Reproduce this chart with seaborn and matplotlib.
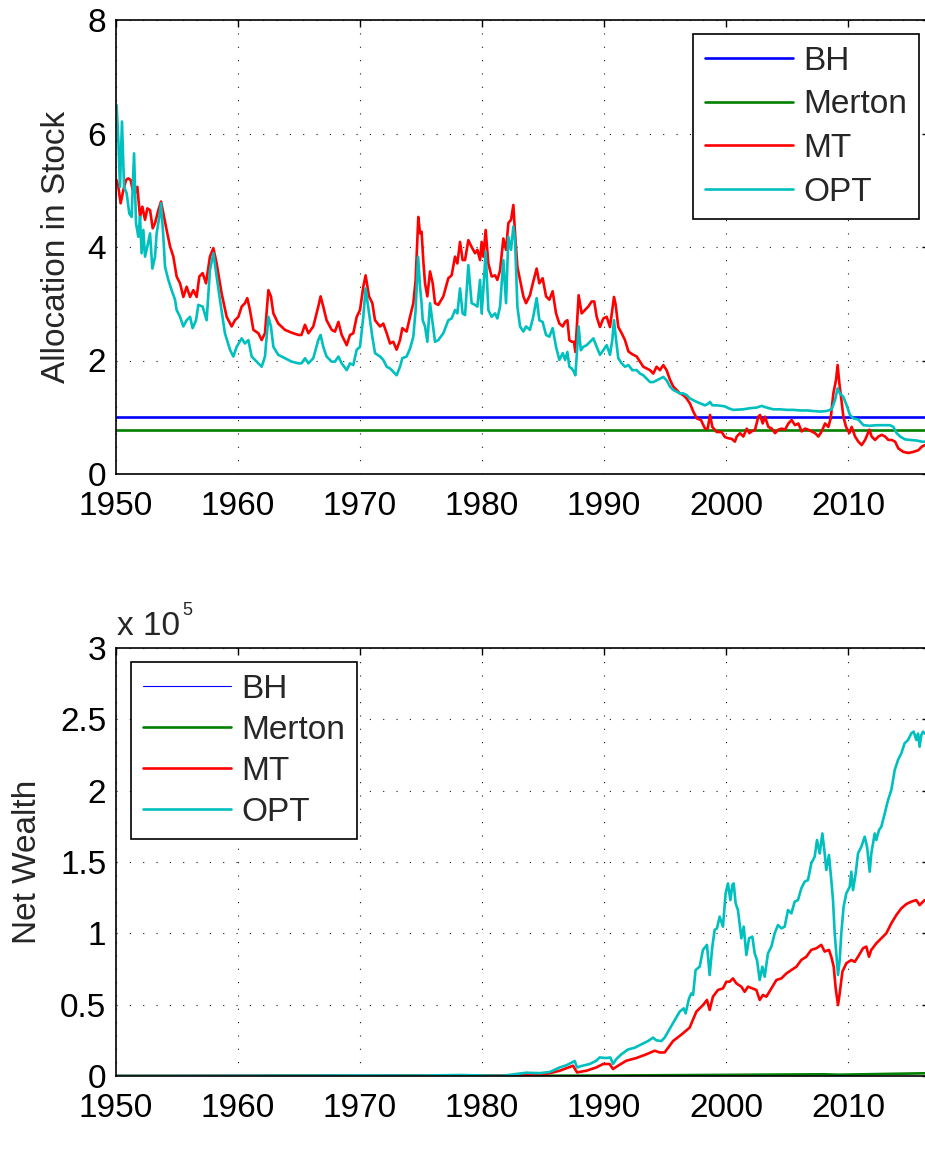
import matplotlib
matplotlib.use("Agg")
import matplotlib.pyplot as plt
import seaborn as sns

# ---------------- Allocation in stock ----------------
alloc_mt_year = [
    1950.05, 1950.19, 1950.38, 1950.60, 1950.82, 1951.01, 1951.20, 1951.37, 1951.56, 1951.75,
    1951.97, 1952.16, 1952.38, 1952.57, 1952.79, 1953.01, 1953.20, 1953.47, 1953.69, 1953.88,
    1954.15, 1954.43, 1954.70, 1954.97, 1955.25, 1955.52, 1955.79, 1956.07, 1956.34, 1956.61,
    1956.83, 1957.10, 1957.38, 1957.70, 1957.98, 1958.25, 1958.66, 1959.07, 1959.48, 1959.75,
    1960.03, 1960.30, 1960.57, 1960.76, 1960.98, 1961.26, 1961.67, 1961.94, 1962.21, 1962.49,
    1962.70, 1962.90, 1963.30, 1963.85, 1964.40, 1964.95, 1965.20, 1965.49, 1965.77, 1966.17,
    1966.58, 1966.77, 1966.99, 1967.26, 1967.68, 1967.95, 1968.23, 1968.50, 1968.91, 1969.18,
    1969.45, 1969.73, 1970.00, 1970.27, 1970.46, 1970.74, 1971.01, 1971.23, 1971.64, 1971.91,
    1972.19, 1972.46, 1972.73, 1973.00, 1973.28, 1973.47, 1973.82, 1974.10, 1974.37, 1974.56,
    1974.78, 1974.92, 1975.05, 1975.19, 1975.33, 1975.52, 1975.74, 1975.96, 1976.15, 1976.42,
    1976.83, 1977.24, 1977.51, 1977.79, 1977.98, 1978.20, 1978.41, 1978.61, 1978.88, 1979.15,
    1979.43, 1979.62, 1979.84, 1979.97, 1980.11, 1980.30, 1980.52, 1980.79, 1981.07, 1981.26,
    1981.48, 1981.75, 1981.97, 1982.16, 1982.38, 1982.57, 1982.71, 1982.90, 1983.12, 1983.39,
    1983.61, 1983.93, 1984.20, 1984.48, 1984.70, 1984.97, 1985.25, 1985.52, 1985.79, 1986.07,
    1986.34, 1986.62, 1986.81, 1987.00, 1987.16, 1987.35, 1987.54, 1987.65, 1987.76, 1987.92,
    1988.17, 1988.44, 1988.71, 1988.99, 1989.20, 1989.40, 1989.67, 1989.94, 1990.22, 1990.49,
    1990.68, 1990.82, 1990.96, 1991.17, 1991.45, 1991.72, 1992.00, 1992.32, 1992.68, 1992.95,
    1993.22, 1993.50, 1993.77, 1994.04, 1994.31, 1994.59, 1994.86, 1995.13, 1995.41, 1995.68,
    1995.95, 1996.23, 1996.50, 1996.77, 1997.05, 1997.32, 1997.60, 1997.95, 1998.28, 1998.50,
    1998.69, 1998.88, 1999.24, 1999.64, 1999.92, 2000.19, 2000.46, 2000.73, 2000.88, 2001.15,
    2001.42, 2001.70, 2001.92, 2002.10, 2002.38, 2002.65, 2002.79, 2003.01, 2003.20, 2003.47,
    2003.75, 2004.02, 2004.29, 2004.56, 2004.84, 2005.11, 2005.38, 2005.66, 2005.93, 2006.20,
    2006.48, 2006.75, 2007.02, 2007.30, 2007.57, 2007.84, 2008.12, 2008.39, 2008.58, 2008.80,
    2009.02, 2009.15, 2009.29, 2009.43, 2009.62, 2009.84, 2010.11, 2010.30, 2010.58, 2010.85,
    2011.12, 2011.40, 2011.75, 2011.94, 2012.22, 2012.49, 2012.76, 2013.04, 2013.31, 2013.58,
    2013.86, 2014.13, 2014.54, 2014.95, 2015.36, 2015.77, 2016.04, 2016.31,
]
alloc_mt = [
    5.18, 5.06, 4.77, 5.00, 5.18, 5.21, 5.18, 5.00, 4.95, 5.06,
    4.53, 4.71, 4.48, 4.68, 4.65, 4.33, 4.42, 4.65, 4.80, 4.59,
    4.30, 4.01, 3.83, 3.48, 3.36, 3.12, 3.30, 3.12, 3.24, 3.12,
    3.48, 3.54, 3.36, 3.83, 3.98, 3.71, 3.18, 2.77, 2.60, 2.71,
    2.77, 2.95, 3.01, 3.10, 2.89, 2.54, 2.48, 2.36, 2.48, 3.24,
    3.13, 2.83, 2.65, 2.54, 2.49, 2.45, 2.45, 2.63, 2.48, 2.60,
    2.95, 3.13, 2.95, 2.71, 2.54, 2.51, 2.68, 2.45, 2.27, 2.45,
    2.48, 2.77, 2.89, 3.30, 3.50, 3.13, 3.01, 2.71, 2.60, 2.65,
    2.48, 2.30, 2.33, 2.19, 2.36, 2.57, 2.51, 2.77, 3.01, 3.42,
    4.53, 4.24, 4.27, 3.75, 3.36, 3.13, 3.57, 3.36, 3.01, 2.98,
    3.13, 3.45, 3.50, 3.83, 3.71, 4.09, 3.77, 3.77, 4.12, 4.00,
    3.89, 3.95, 3.77, 4.09, 3.83, 4.30, 3.71, 3.48, 3.50, 3.42,
    3.59, 4.15, 3.95, 4.42, 4.48, 4.74, 4.24, 3.65, 3.42, 3.13,
    3.01, 3.15, 3.39, 3.62, 3.36, 3.45, 3.13, 3.07, 3.22, 2.83,
    2.65, 2.60, 2.68, 2.71, 2.36, 2.33, 2.33, 2.15, 2.54, 3.15,
    2.83, 2.89, 2.95, 3.04, 3.04, 2.77, 2.59, 2.74, 2.77, 2.59,
    2.89, 3.12, 2.98, 2.59, 2.48, 2.36, 2.16, 2.11, 2.07, 1.98,
    1.89, 1.86, 1.83, 1.77, 1.89, 1.83, 1.92, 1.83, 1.66, 1.54,
    1.48, 1.42, 1.39, 1.33, 1.24, 1.10, 0.98, 0.95, 0.80, 0.80,
    1.04, 0.83, 0.74, 0.74, 0.65, 0.63, 0.62, 0.57, 0.66, 0.72,
    0.66, 0.80, 0.72, 0.75, 0.78, 1.01, 1.04, 0.89, 1.01, 0.83,
    0.80, 0.72, 0.78, 0.80, 0.78, 0.89, 0.95, 0.86, 0.89, 0.75,
    0.80, 0.78, 0.75, 0.72, 0.66, 0.75, 0.89, 0.83, 0.98, 1.42,
    1.66, 1.92, 1.60, 1.36, 1.01, 0.83, 0.72, 0.83, 0.66, 0.57,
    0.51, 0.60, 0.78, 0.66, 0.60, 0.66, 0.69, 0.66, 0.60, 0.60,
    0.57, 0.45, 0.39, 0.37, 0.39, 0.42, 0.48, 0.51,
]

alloc_opt_year = [
    1950.05, 1950.19, 1950.33, 1950.49, 1950.66, 1950.87, 1951.09, 1951.28, 1951.48, 1951.64,
    1951.83, 1951.97, 1952.10, 1952.24, 1952.38, 1952.57, 1952.79, 1952.98, 1953.20, 1953.33,
    1953.55, 1953.69, 1953.88, 1954.02, 1954.29, 1954.56, 1954.84, 1954.97, 1955.25, 1955.52,
    1955.79, 1956.07, 1956.28, 1956.56, 1956.75, 1957.10, 1957.43, 1957.70, 1957.98, 1958.25,
    1958.52, 1958.93, 1959.34, 1959.62, 1959.89, 1960.30, 1960.57, 1960.85, 1961.12, 1961.53,
    1961.94, 1962.21, 1962.49, 1962.70, 1962.90, 1963.30, 1963.85, 1964.40, 1964.95, 1965.20,
    1965.49, 1965.77, 1966.17, 1966.58, 1966.77, 1966.99, 1967.26, 1967.68, 1967.95, 1968.23,
    1968.50, 1968.91, 1969.18, 1969.45, 1969.73, 1970.00, 1970.27, 1970.46, 1970.74, 1971.01,
    1971.23, 1971.64, 1971.91, 1972.19, 1972.46, 1972.73, 1973.00, 1973.28, 1973.47, 1973.82,
    1974.10, 1974.37, 1974.56, 1974.76, 1974.92, 1975.05, 1975.14, 1975.33, 1975.52, 1975.74,
    1975.96, 1976.15, 1976.42, 1976.83, 1977.24, 1977.51, 1977.79, 1977.98, 1978.20, 1978.41,
    1978.61, 1978.88, 1979.15, 1979.43, 1979.62, 1979.84, 1979.97, 1980.11, 1980.30, 1980.52,
    1980.79, 1981.07, 1981.26, 1981.48, 1981.75, 1981.97, 1982.16, 1982.38, 1982.57, 1982.71,
    1982.90, 1983.12, 1983.39, 1983.61, 1983.93, 1984.20, 1984.48, 1984.70, 1984.97, 1985.25,
    1985.52, 1985.79, 1986.07, 1986.34, 1986.62, 1986.81, 1987.00, 1987.16, 1987.35, 1987.54,
    1987.65, 1987.76, 1987.92, 1988.10, 1988.30, 1988.58, 1988.85, 1989.13, 1989.40, 1989.67,
    1989.94, 1990.22, 1990.49, 1990.68, 1990.82, 1990.96, 1991.17, 1991.45, 1991.72, 1992.00,
    1992.32, 1992.68, 1992.95, 1993.22, 1993.50, 1993.77, 1994.04, 1994.31, 1994.59, 1994.86,
    1995.13, 1995.41, 1995.68, 1995.95, 1996.23, 1996.50, 1996.77, 1997.05, 1997.32, 1997.60,
    1997.95, 1998.28, 1998.55, 1998.69, 1998.88, 1999.24, 1999.64, 1999.92, 2000.19, 2000.60,
    2001.42, 2001.97, 2002.51, 2002.92, 2003.33, 2003.88, 2004.43, 2004.98, 2005.52, 2006.07,
    2006.61, 2007.16, 2007.70, 2008.25, 2008.66, 2008.93, 2009.15, 2009.34, 2009.62, 2009.89,
    2010.16, 2010.44, 2010.85, 2011.26, 2011.80, 2012.35, 2012.90, 2013.45, 2013.72, 2013.99,
    2014.27, 2014.68, 2015.08, 2015.63, 2016.04, 2016.31,
]
alloc_opt = [
    6.50, 5.89, 5.06, 6.21, 5.06, 4.95, 4.59, 4.53, 5.65, 4.42,
    4.18, 4.53, 3.89, 4.30, 3.83, 4.01, 4.24, 3.62, 3.83, 4.24,
    4.53, 4.77, 4.18, 3.65, 3.42, 3.24, 3.07, 2.89, 2.77, 2.60,
    2.71, 2.77, 2.57, 2.71, 2.98, 2.95, 2.71, 3.59, 3.89, 3.48,
    3.07, 2.48, 2.19, 2.07, 2.24, 2.39, 2.30, 2.36, 2.07, 1.98,
    1.89, 2.07, 2.77, 2.60, 2.24, 2.10, 2.04, 1.98, 1.95, 1.95,
    2.04, 1.95, 2.04, 2.36, 2.45, 2.24, 2.07, 1.98, 1.98, 2.07,
    1.95, 1.83, 1.95, 1.92, 2.19, 2.24, 2.77, 3.27, 2.83, 2.42,
    2.13, 2.07, 2.01, 1.89, 1.86, 1.80, 1.74, 1.89, 2.04, 2.07,
    2.21, 2.42, 2.89, 3.83, 3.30, 3.00, 2.71, 2.60, 2.33, 3.01,
    2.65, 2.33, 2.36, 2.48, 2.71, 2.74, 2.89, 2.83, 3.27, 2.83,
    2.80, 3.68, 3.01, 2.98, 2.95, 3.42, 2.83, 3.24, 3.92, 2.89,
    2.77, 2.83, 2.74, 2.95, 3.77, 3.01, 4.18, 3.95, 4.36, 4.12,
    2.95, 2.60, 2.51, 2.60, 2.54, 2.77, 3.10, 2.71, 2.68, 2.45,
    2.42, 2.57, 2.24, 2.01, 2.13, 2.01, 2.15, 1.89, 1.86, 1.80,
    1.74, 2.07, 2.60, 2.18, 2.24, 2.27, 2.33, 2.39, 2.24, 2.10,
    2.18, 2.27, 2.10, 2.36, 2.71, 2.42, 2.04, 1.95, 1.89, 1.92,
    1.83, 1.83, 1.77, 1.74, 1.68, 1.62, 1.62, 1.65, 1.68, 1.71,
    1.65, 1.54, 1.48, 1.45, 1.42, 1.42, 1.39, 1.33, 1.30, 1.27,
    1.24, 1.21, 1.24, 1.27, 1.21, 1.21, 1.20, 1.19, 1.16, 1.13,
    1.14, 1.16, 1.17, 1.20, 1.17, 1.14, 1.14, 1.13, 1.13, 1.12,
    1.12, 1.11, 1.10, 1.11, 1.14, 1.30, 1.51, 1.42, 1.36, 1.21,
    1.04, 0.98, 0.96, 0.86, 0.85, 0.86, 0.86, 0.86, 0.83, 0.72,
    0.66, 0.61, 0.60, 0.59, 0.57, 0.57,
]

alloc_flat_year = [1950.0, 2016.31]
alloc_bh = [1.0, 1.0]
alloc_merton = [0.775, 0.775]

# ---------------- Net wealth (units of 1e5) ----------------
wealth_opt_year = [
    1950.0, 1955.0, 1960.0, 1965.0, 1970.0, 1975.0,
    1978.17, 1980.90, 1981.72, 1982.81, 1983.63, 1984.73, 1985.55, 1986.37, 1986.91, 1987.60,
    1987.79, 1988.14, 1988.83, 1989.37, 1989.64, 1990.19, 1990.52, 1990.74, 1991.01, 1991.42,
    1991.97, 1992.51, 1993.06, 1993.61, 1994.02, 1994.29, 1994.70, 1994.97, 1995.38, 1995.79,
    1996.20, 1996.53, 1996.69, 1996.97, 1997.16, 1997.30, 1997.51, 1997.84, 1998.11, 1998.44,
    1998.66, 1998.88, 1999.07, 1999.26, 1999.48, 1999.75, 1999.97, 2000.16, 2000.36, 2000.52,
    2000.63, 2000.79, 2000.98, 2001.26, 2001.45, 2001.67, 2001.89, 2002.16, 2002.35, 2002.54,
    2002.76, 2002.98, 2003.17, 2003.44, 2003.72, 2003.99, 2004.26, 2004.54, 2004.81, 2005.08,
    2005.36, 2005.63, 2005.90, 2006.17, 2006.45, 2006.72, 2006.99, 2007.27, 2007.46, 2007.68,
    2007.90, 2008.09, 2008.22, 2008.44, 2008.63, 2008.77, 2008.91, 2009.04, 2009.18, 2009.32,
    2009.45, 2009.64, 2009.86, 2010.14, 2010.27, 2010.41, 2010.63, 2010.82, 2011.09, 2011.37,
    2011.56, 2011.78, 2011.91, 2012.19, 2012.32, 2012.54, 2012.73, 2013.01, 2013.28, 2013.55,
    2013.83, 2014.10, 2014.37, 2014.64, 2014.92, 2015.19, 2015.38, 2015.60, 2015.74, 2015.87,
    2016.01, 2016.15, 2016.28,
]
wealth_opt = [
    0.00001, 0.0005, 0.002, 0.003, 0.004, 0.003,
    0.007, 0.002, 0.002, 0.014, 0.023, 0.020, 0.028, 0.060, 0.075, 0.105,
    0.060, 0.070, 0.084, 0.107, 0.130, 0.126, 0.130, 0.084, 0.119, 0.152,
    0.186, 0.198, 0.222, 0.245, 0.269, 0.250, 0.245, 0.269, 0.330, 0.392,
    0.451, 0.474, 0.439, 0.544, 0.579, 0.568, 0.743, 0.766, 0.884, 0.919,
    0.708, 0.907, 1.024, 1.035, 1.117, 1.047, 1.280, 1.350, 1.233, 1.339,
    1.350, 1.210, 1.163, 0.965, 1.047, 0.848, 0.965, 0.977, 0.860, 0.813,
    0.673, 0.766, 0.696, 0.860, 0.907, 1.000, 1.058, 1.035, 1.047, 1.163,
    1.140, 1.222, 1.233, 1.315, 1.362, 1.374, 1.490, 1.537, 1.654, 1.560,
    1.700, 1.560, 1.444, 1.549, 1.374, 1.233, 1.000, 0.860, 0.708, 0.813,
    1.000, 1.186, 1.280, 1.327, 1.432, 1.303, 1.420, 1.560, 1.607, 1.677,
    1.607, 1.432, 1.560, 1.700, 1.654, 1.724, 1.747, 1.840, 1.934, 2.004,
    2.145, 2.215, 2.262, 2.332, 2.355, 2.402, 2.414, 2.355, 2.400, 2.308,
    2.390, 2.414, 2.400,
]

wealth_mt_year = [
    1950.0, 1955.0, 1960.0, 1965.0, 1970.0, 1975.0, 1978.17, 1980.90,
    1983.63, 1985.27, 1986.37, 1987.46, 1987.79, 1988.55, 1989.37, 1989.92, 1990.46, 1990.74,
    1991.15, 1991.83, 1992.65, 1993.47, 1994.15, 1994.56, 1994.97, 1995.66, 1996.34, 1997.02,
    1997.57, 1998.11, 1998.44, 1998.66, 1998.93, 1999.34, 1999.75, 2000.03, 2000.30, 2000.57,
    2000.85, 2001.26, 2001.53, 2001.80, 2002.16, 2002.49, 2002.76, 2003.03, 2003.31, 2003.72,
    2004.13, 2004.54, 2004.95, 2005.36, 2005.77, 2006.17, 2006.58, 2006.99, 2007.40, 2007.81,
    2008.09, 2008.44, 2008.63, 2008.83, 2008.99, 2009.18, 2009.32, 2009.54, 2009.86, 2010.27,
    2010.55, 2010.82, 2011.23, 2011.50, 2011.72, 2011.91, 2012.32, 2012.73, 2013.14, 2013.55,
    2013.96, 2014.37, 2014.78, 2015.19, 2015.60, 2015.87, 2016.15, 2016.28,
]
wealth_mt = [
    0.00001, 0.0004, 0.0015, 0.0025, 0.003, 0.002, 0.004, 0.002,
    0.007, 0.014, 0.037, 0.072, 0.025, 0.037, 0.060, 0.084, 0.084, 0.049,
    0.072, 0.107, 0.126, 0.152, 0.177, 0.165, 0.165, 0.245, 0.290, 0.339,
    0.451, 0.497, 0.533, 0.463, 0.556, 0.603, 0.614, 0.661, 0.661, 0.684,
    0.649, 0.626, 0.590, 0.626, 0.614, 0.603, 0.533, 0.568, 0.556, 0.614,
    0.673, 0.684, 0.719, 0.743, 0.766, 0.813, 0.836, 0.884, 0.895, 0.919,
    0.872, 0.884, 0.836, 0.766, 0.614, 0.497, 0.579, 0.731, 0.790, 0.813,
    0.800, 0.836, 0.895, 0.907, 0.836, 0.884, 0.930, 0.965, 1.000, 1.070,
    1.128, 1.175, 1.205, 1.222, 1.233, 1.198, 1.222, 1.233,
]

wealth_slow_year = [1950.0, 1960.0, 1970.0, 1980.0, 1990.0, 2000.0, 2008.0, 2009.2, 2016.31]
wealth_merton = [0.00001, 0.0001, 0.0003, 0.0008, 0.003, 0.008, 0.012, 0.009, 0.019]
wealth_bh = [0.00001, 0.0001, 0.0003, 0.0007, 0.0028, 0.0075, 0.0115, 0.0085, 0.018]

names = ["BH", "Merton", "MT", "OPT"]
colors = {"BH": "#0000ff", "Merton": "#008000", "MT": "#ff0000", "OPT": "#00bfbf"}

# ---------------- figure ----------------
sns.set_style("white")
plt.rcParams["font.family"] = ["Liberation Sans", "DejaVu Sans"]

W, H = 925, 1154
fig = plt.figure(figsize=(W / 100, H / 100), dpi=100)

X0, X1 = 1950.0, 2016.6
PX_PER_YEAR = 12.2
LW = 1.9


def add_px_axes(left, top, bottom):
    right = left + (X1 - X0) * PX_PER_YEAR
    return fig.add_axes([left / W, 1 - bottom / H, (right - left) / W, (bottom - top) / H])


ax1 = add_px_axes(116, 20, 474)
ax2 = add_px_axes(116, 648, 1076)

top_series = {
    "BH": (alloc_flat_year, alloc_bh, LW),
    "Merton": (alloc_flat_year, alloc_merton, LW),
    "MT": (alloc_mt_year, alloc_mt, LW),
    "OPT": (alloc_opt_year, alloc_opt, LW),
}
bottom_series = {
    "BH": (wealth_slow_year, wealth_bh, 0.8),
    "Merton": (wealth_slow_year, wealth_merton, LW),
    "MT": (wealth_mt_year, wealth_mt, LW),
    "OPT": (wealth_opt_year, wealth_opt, LW),
}

for ax, series in ((ax1, top_series), (ax2, bottom_series)):
    for name in names:
        xs, ys, lw = series[name]
        sns.lineplot(x=xs, y=ys, ax=ax, color=colors[name], linewidth=lw,
                     label=name, estimator=None, sort=False)


def style_axes(ax, ylim, yticks, ylabels):
    ax.set_xlim(X0, X1)
    ax.set_ylim(*ylim)
    ax.set_xticks(list(range(1950, 2011, 10)))
    ax.set_yticks(yticks)
    ax.set_yticklabels(ylabels)
    ax.grid(True, color="0.1", linestyle=(0, (1, 11)), linewidth=0.8)
    ax.tick_params(direction="in", length=5, width=1, top=True, right=True,
                   labelsize=24, colors="k")
    ax.tick_params(axis="x", pad=12)
    ax.tick_params(axis="y", pad=7)
    for s in ax.spines.values():
        s.set_visible(True)
        s.set_color("k")
        s.set_linewidth(1.2)
    ax.set_xlabel("")


style_axes(ax1, (0, 8), [0, 2, 4, 6, 8], ["0", "2", "4", "6", "8"])
style_axes(ax2, (0, 3), [0, 0.5, 1, 1.5, 2, 2.5, 3],
           ["0", "0.5", "1", "1.5", "2", "2.5", "3"])

ax1.set_ylabel("Allocation in Stock", fontsize=24)
ax1.yaxis.set_label_coords(-0.054, 0.5)
ax2.set_ylabel("Net Wealth", fontsize=24)
ax2.yaxis.set_label_coords(-0.090, 0.5)


def add_legend(ax, loc, anchor, spacing):
    handles, labels = ax.get_legend_handles_labels()
    leg = ax.legend(handles, labels, loc=loc, bbox_to_anchor=anchor, borderaxespad=0,
                    fontsize=24, frameon=True, fancybox=False, edgecolor="k",
                    framealpha=1, handlelength=2.65, handletextpad=0.3,
                    labelspacing=spacing, borderpad=0.35)
    leg.get_frame().set_linewidth(1.2)
    return leg


add_legend(ax1, "upper right", (0.988, 0.969), 0.38)
add_legend(ax2, "upper left", (0.0185, 0.967), 0.30)

# exponent label of the wealth axis
fig.text(117 / W, 1 - 635 / H, "x 10", fontsize=24, va="baseline", ha="left")
fig.text(182 / W, 1 - 615 / H, "5", fontsize=13, va="baseline", ha="left")

fig.savefig("out.png", dpi=100)
